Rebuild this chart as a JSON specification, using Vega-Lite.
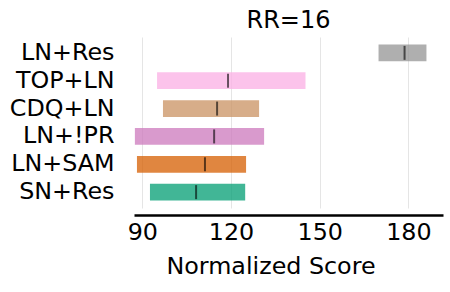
{
  "$schema": "https://vega.github.io/schema/vega-lite/v6.json",
  "width": 309,
  "height": 171,
  "autosize": {"type": "none"},
  "padding": {"left": 134, "top": 37, "right": 7, "bottom": 84},
  "background": "white",
  "title": {"text": "RR=16", "fontSize": 24, "font": "DejaVu Sans", "fontWeight": "normal", "color": "black", "anchor": "middle", "offset": 4},
  "config": {
    "view": {"stroke": null},
    "font": "DejaVu Sans"
  },
  "data": {
    "values": [
      {"method": "LN+Res", "low": 169.9, "high": 186.1, "median": 178.7, "color": "#949494"},
      {"method": "TOP+LN", "low": 95.0, "high": 145.2, "median": 119.0, "color": "#fbafe4"},
      {"method": "CDQ+LN", "low": 97.0, "high": 129.5, "median": 115.3, "color": "#ca9161"},
      {"method": "LN+!PR", "low": 87.5, "high": 131.2, "median": 114.3, "color": "#cc78bc"},
      {"method": "LN+SAM", "low": 88.2, "high": 125.1, "median": 111.2, "color": "#d55e00"},
      {"method": "SN+Res", "low": 92.6, "high": 124.8, "median": 108.2, "color": "#029e73"}
    ]
  },
  "encoding": {
    "y": {
      "field": "method", "type": "nominal", "sort": null,
      "scale": {"paddingInner": 0.4, "paddingOuter": 0.27},
      "axis": {"title": null, "ticks": false, "domain": false, "grid": false, "labelFontSize": 23.8, "labelColor": "black", "labelPadding": 20, "labelFont": "DejaVu Sans"}
    }
  },
  "layer": [
    {
      "mark": {"type": "bar", "opacity": 0.75},
      "encoding": {
        "x": {
          "field": "low", "type": "quantitative",
          "scale": {"domain": [87.2, 191.7], "nice": false, "zero": false},
          "axis": {
            "title": "Normalized Score", "titleFontSize": 23.8, "titleFontWeight": "normal", "titleColor": "black", "titlePadding": 11,
            "titleX": 136.5, "titleAlign": "center",
            "values": [90, 120, 150, 180], "ticks": false, "labelFontSize": 23.8, "labelColor": "black", "labelPadding": 5,
            "domainColor": "black", "domainWidth": 2.5, "offset": 7,
            "grid": true, "gridColor": "#e5e5e5", "gridWidth": 1
          }
        },
        "x2": {"field": "high"},
        "color": {"field": "color", "type": "nominal", "scale": null, "legend": null}
      }
    },
    {
      "mark": {"type": "tick", "color": "black", "opacity": 0.6, "thickness": 2, "size": 14},
      "encoding": {
        "x": {"field": "median", "type": "quantitative"}
      }
    }
  ]
}
